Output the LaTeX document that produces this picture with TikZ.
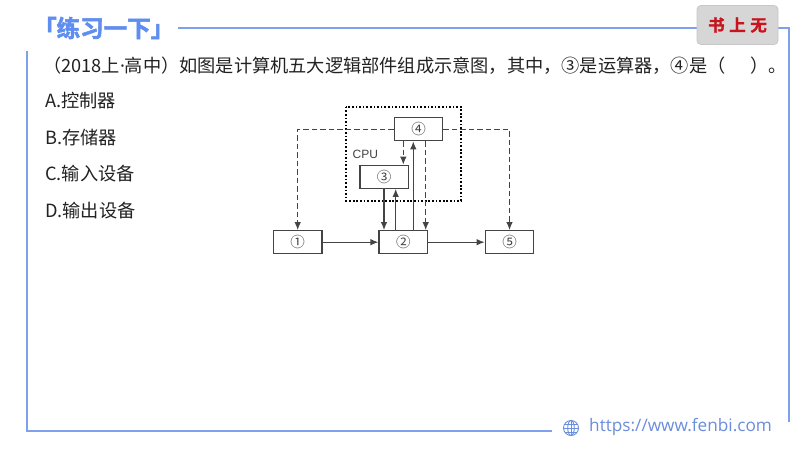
\documentclass[tikz,border=0pt]{standalone}
\usepackage{fontspec}
\setmainfont{Noto Sans CJK SC}
\newfontfamily\latinf{Open Sans}
\newfontfamily\helv{Liberation Sans}
\newfontfamily\heavy[FakeBold=2.2]{Noto Sans CJK SC Bold}
\newfontfamily\tagfont[FakeBold=1.5]{Noto Sans CJK SC Bold}
\newfontfamily\dotf{Noto Sans}
\usetikzlibrary{arrows.meta,calc}
\definecolor{frameblue}{HTML}{7F9FEF}
\definecolor{titleblue}{HTML}{5F8DF0}
\definecolor{urlblue}{HTML}{6A8DDC}
\definecolor{tagred}{HTML}{C8141E}
\definecolor{txt}{HTML}{222222}
\definecolor{ln}{HTML}{444444}
\tikzset{
  x=1pt,y=-1pt,
  frameline/.style={draw=frameblue,line width=1.6pt},
  question/.style={anchor=west,inner sep=0pt,text=txt,font=\fontsize{18.2}{20}\selectfont},
  unitbox/.style={draw=ln,line width=1.2pt,fill=white,minimum width=48.5pt,minimum height=23pt,inner sep=0pt,text=ln,font=\fontsize{14.5}{14.5}\selectfont},
  solidarrow/.style={draw=ln,line width=1.2pt,-{Latex[length=8pt,width=6.5pt]}},
  dasharrow/.style={draw=ln,line width=1.2pt,dash pattern=on 5.5pt off 3pt,-{Latex[length=8pt,width=6.5pt]}},
}
\begin{document}
\begin{tikzpicture}
\useasboundingbox (0,0) rectangle (800,450);
\fill[white] (0,0) rectangle (800,450);
% frame
\coordinate (f1) at (178,28);
\coordinate (f2) at (789,28);
\coordinate (f3) at (789,422);
\coordinate (f4) at (552,431);
\coordinate (f5) at (27,431);
\coordinate (f6) at (27,51);
\draw[frameline] (f1) -- (f2) -- (f3);
\draw[frameline] (f4) -- (f5) -- (f6);
% title
\node[anchor=west,inner sep=0pt,text=titleblue,font=\heavy\fontsize{23.5}{25}\selectfont] (title) at (33,28) {「练习一下」};
% tag
\node[draw=black!22,fill=black!16,rounded corners=4pt,minimum width=81pt,minimum height=39pt,inner sep=0pt,line width=0.8pt,text=tagred,font=\tagfont\fontsize{16.5}{18}\selectfont] (tag) at (737.5,25) {书\hspace{0.28em}上\hspace{0.28em}无};
% texts
\node[question] (q) at (43,66) {（2018上{\dotf ·}高中）如图是计算机五大逻辑部件组成示意图，其中，③是运算器，④是（\hspace{1.35em}）。};
\node[question] (a) at (45,101) {A.控制器};
\node[question] (b) at (45,138) {B.存储器};
\node[question] (c) at (45,174) {C.输入设备};
\node[question] (d) at (45,211) {D.输出设备};
% diagram
\draw[draw=black,line width=1.8pt,dash pattern=on 1.7pt off 1.9pt] (346,106.7) rectangle (461,200.7);
\node[unitbox] (n1) at (297.7,242.2) {①};
\node[unitbox] (n2) at (403.3,242.2) {②};
\node[unitbox] (n5) at (509.5,242.2) {⑤};
\node[unitbox] (n4) at (418.6,129.2) {④};
\node[unitbox] (n3) at (384.2,176.8) {③};
\node[anchor=west,inner sep=0pt,text=ln,font=\helv\fontsize{12}{12}\selectfont] (cpu) at (352.5,154) {CPU};
\coordinate (xa) at (403.3,0);
\coordinate (xb) at (384,0);
\coordinate (xc) at (395.7,0);
\coordinate (xd) at (413.3,0);
\coordinate (xe) at (425.7,0);
\draw[dasharrow] (n4.west) -| (n1.north);
\draw[dasharrow] (n4.east) -| (n5.north);
\draw[dasharrow] (n4.south -| xa) -- (n3.north -| xa);
\draw[dasharrow] (n4.south -| xe) -- (n2.north -| xe);
\draw[solidarrow] (n3.south -| xb) -- (n2.north -| xb);
\draw[solidarrow] (n2.north -| xc) -- (n3.south -| xc);
\draw[solidarrow] (n2.north -| xd) -- (n4.south -| xd);
\draw[solidarrow] (n1.east) -- (n2.west);
\draw[solidarrow] (n2.east) -- (n5.west);
% globe
\begin{scope}[draw=urlblue,line width=0.9pt]
\draw (571,428) circle (7.5);
\draw (571,428) ellipse (3.3 and 7.5);
\draw (563.5,428) -- (578.5,428);
\draw (564.7,424) -- (577.3,424);
\draw (564.7,432) -- (577.3,432);
\draw (571,420.5) -- (571,435.5);
\end{scope}
\node[anchor=west,inner sep=0pt,text=urlblue,font=\latinf\fontsize{17.2}{18}\selectfont] (url) at (589,427) {https://www.fenbi.com};
\end{tikzpicture}
\end{document}
